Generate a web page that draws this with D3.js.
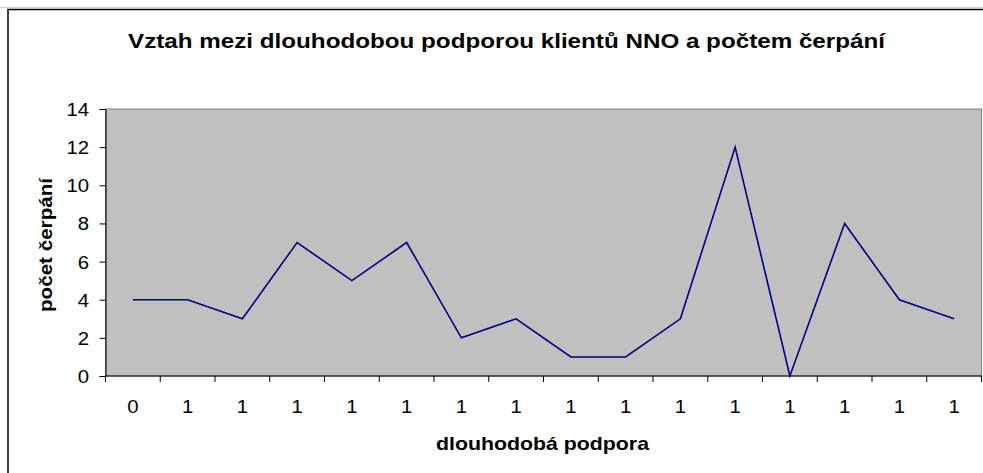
<!DOCTYPE html>
<html>
<head>
    <meta charset="utf-8">
    <script src="https://d3js.org/d3.v7.min.js"></script>
    <style>
        body { margin: 0; background: #fff; }
        text { font-family: Arial, "Liberation Sans", sans-serif; }
    </style>
</head>
<body>
    <script>
        // data
        var categories = ["0", "1", "1", "1", "1", "1", "1", "1", "1", "1", "1", "1", "1", "1", "1", "1"];
        var values = [4, 4, 3, 7, 5, 7, 2, 3, 1, 1, 3, 12, 0, 8, 4, 3];
        var yTicks = [0, 2, 4, 6, 8, 10, 12, 14];
        var title = "Vztah mezi dlouhodobou podporou klientů NNO a počtem čerpání";
        var xTitle = "dlouhodobá podpora";
        var yTitle = "počet čerpání";

        var W = 983, H = 473;
        var plot = { left: 105.5, right: 981.5, top: 109, bottom: 376 };
        var sx = 1.13; // horizontal stretch of the original text

        var svg = d3.select("body").append("svg")
            .attr("width", W)
            .attr("height", H);

        // outer chart frame
        svg.append("line")
            .attr("x1", 0).attr("x2", W)
            .attr("y1", 7.5).attr("y2", 7.5)
            .style("stroke", "#d0d0d0");
        svg.append("rect")
            .attr("x", 8).attr("y", 9.5)
            .attr("width", W + 20).attr("height", H + 20)
            .style("fill", "none")
            .style("stroke", "#000")
            .style("stroke-width", 1.5);

        var x = d3.scaleBand()
            .domain(d3.range(categories.length))
            .range([plot.left, plot.right]);

        var y = d3.scaleLinear()
            .domain([0, 14])
            .range([plot.bottom, plot.top]);

        // plot area
        svg.append("rect")
            .attr("x", plot.left).attr("y", plot.top)
            .attr("width", plot.right - plot.left)
            .attr("height", plot.bottom - plot.top)
            .style("fill", "#c0c0c0")
            .style("stroke", "#808080")
            .style("stroke-width", 1);

        // y axis
        var yAxis = svg.append("g")
            .attr("transform", "translate(" + plot.left + ",0)")
            .call(d3.axisLeft(y).tickValues(yTicks).tickSize(6).tickPadding(0));
        yAxis.select(".domain").style("stroke", "#000");
        yAxis.selectAll(".tick line").style("stroke", "#000");
        yAxis.selectAll(".tick text")
            .attr("x", -16.5 / sx)
            .attr("dy", "0.36em")
            .attr("transform", "scale(" + sx + ",1)")
            .style("font-size", "18px")
            .style("fill", "#000");

        // x axis, ticks between categories
        var xAxis = svg.append("g")
            .attr("transform", "translate(0," + plot.bottom + ")");
        xAxis.append("line")
            .attr("x1", plot.left).attr("x2", plot.right)
            .style("stroke", "#000");
        xAxis.selectAll(".xtick")
            .data(d3.range(categories.length + 1))
            .join("line")
            .attr("class", "xtick")
            .attr("x1", function (i) { return i < categories.length ? x(i) : plot.right; })
            .attr("x2", function (i) { return i < categories.length ? x(i) : plot.right; })
            .attr("y1", 0).attr("y2", 6)
            .style("stroke", "#000");
        xAxis.selectAll(".xlabel")
            .data(categories)
            .join("text")
            .attr("class", "xlabel")
            .attr("transform", function (d, i) {
                return "translate(" + (x(i) + x.bandwidth() / 2) + ",37) scale(" + sx + ",1)";
            })
            .attr("text-anchor", "middle")
            .style("font-size", "18px")
            .text(function (d) { return d; });

        // line
        var line = d3.line()
            .x(function (d, i) { return x(i) + x.bandwidth() / 2; })
            .y(function (d) { return y(d); });

        svg.append("path")
            .datum(values)
            .attr("d", line)
            .style("fill", "none")
            .style("stroke", "#000080")
            .style("stroke-width", 1.6);

        // titles
        svg.append("text")
            .attr("x", 128).attr("y", 48)
            .attr("textLength", 757)
            .attr("lengthAdjust", "spacingAndGlyphs")
            .style("font-size", "20px")
            .style("font-weight", "bold")
            .text(title);

        svg.append("text")
            .attr("x", 436).attr("y", 450)
            .attr("textLength", 213)
            .attr("lengthAdjust", "spacingAndGlyphs")
            .style("font-size", "19px")
            .style("font-weight", "bold")
            .text(xTitle);

        svg.append("text")
            .attr("transform", "translate(52,312) rotate(-90)")
            .attr("textLength", 134)
            .attr("lengthAdjust", "spacingAndGlyphs")
            .style("font-size", "19px")
            .style("font-weight", "bold")
            .text(yTitle);
    </script>
</body>
</html>
